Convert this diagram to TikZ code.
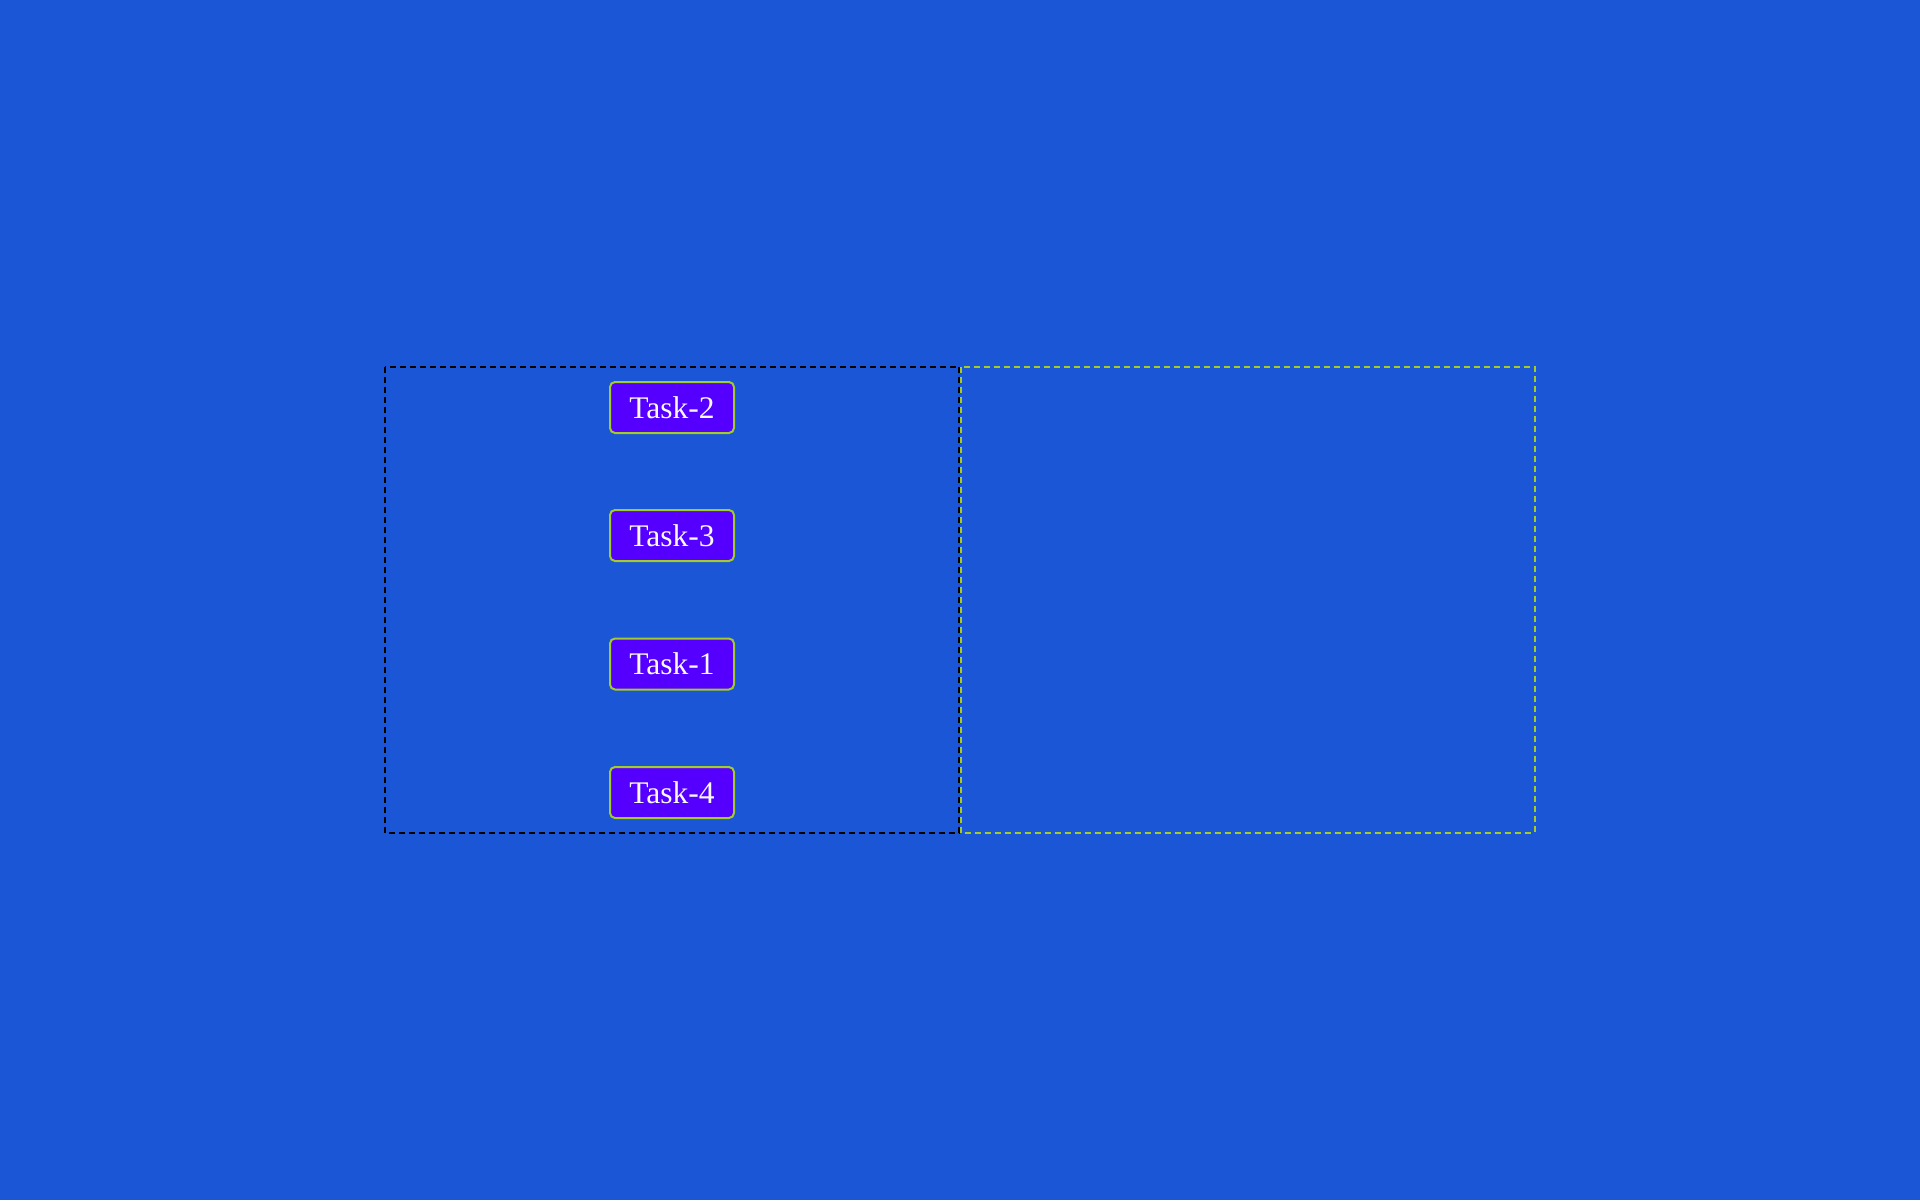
\documentclass[tikz,border=0pt]{standalone}
\usepackage{fontspec}
\setmainfont{Liberation Serif}
\definecolor{bgblue}{RGB}{26,86,214}
\definecolor{taskfill}{RGB}{85,0,255}
\definecolor{ygreen}{RGB}{163,204,40}
\definecolor{tasktext}{RGB}{250,248,255}
\tikzset{
  taskbox/.style={draw=ygreen, line width=2pt, fill=taskfill, rounded corners=5pt,
    minimum width=124pt, minimum height=51pt, inner sep=0pt, text=tasktext,
    font=\fontsize{31.5}{37}\selectfont},
  lanebox/.style={line width=2pt, dash pattern=on 6pt off 4pt}
}
\begin{document}
\begin{tikzpicture}[x=1pt,y=-1pt]
\fill[bgblue] (0,0) rectangle (1920,1200);
\useasboundingbox (0,0) rectangle (1920,1200);
\draw[lanebox, draw=black] (384.5,366.5) rectangle (959,832.5);
\draw[lanebox, draw=ygreen] (961,366.5) rectangle (1534.5,832.5);
\node[taskbox] (t2) at (672,407.5) {Task-2};
\node[taskbox] (t3) at (672,535.5) {Task-3};
\node[taskbox] (t1) at (672,664) {Task-1};
\node[taskbox] (t4) at (672,792.5) {Task-4};
\end{tikzpicture}
\end{document}
